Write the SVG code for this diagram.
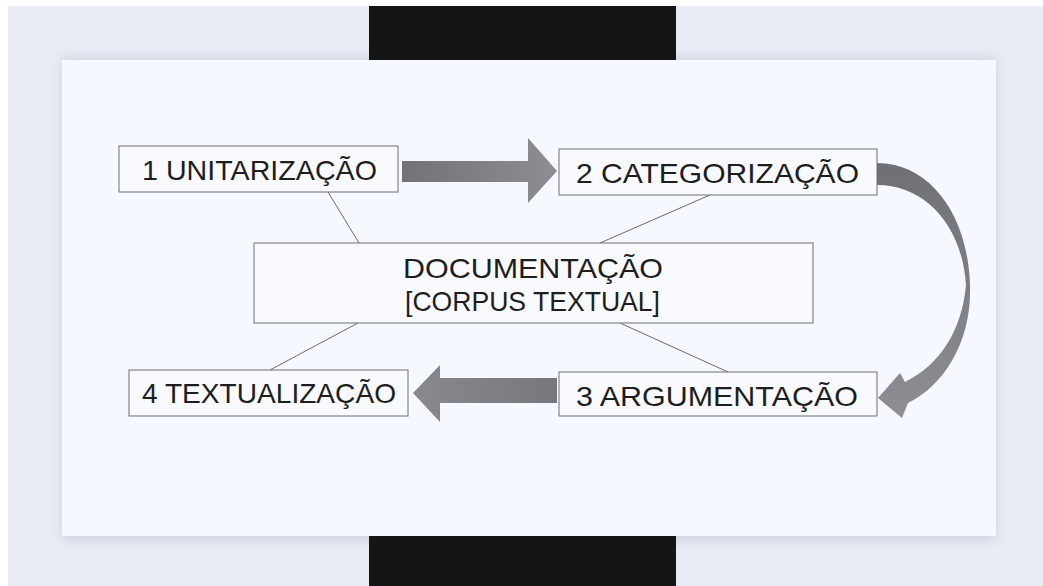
<svg xmlns="http://www.w3.org/2000/svg" width="1043" height="586" viewBox="0 0 1043 586">
<defs>
<style>
.box{fill:#f8faff;stroke:#6e6e6e;stroke-width:1}
.lbl{font-family:"Liberation Sans",Arial,sans-serif;font-size:28px;fill:#1e1e1e}
.ln{stroke:#6a6a6a;stroke-width:1;fill:none}
</style>
<linearGradient id="gR" x1="0" y1="0" x2="1" y2="0">
<stop offset="0" stop-color="#727278"/><stop offset="1" stop-color="#8d8d93"/>
</linearGradient>
<linearGradient id="gL" x1="0" y1="0" x2="1" y2="0">
<stop offset="0" stop-color="#88888e"/><stop offset="1" stop-color="#77777d"/>
</linearGradient>
<linearGradient id="gC" x1="0" y1="0" x2="0" y2="1">
<stop offset="0" stop-color="#6f6f76"/><stop offset="1" stop-color="#8e8e94"/>
</linearGradient>
<filter id="sh" x="-10%" y="-10%" width="120%" height="120%">
<feGaussianBlur stdDeviation="6"/>
</filter>
</defs>
<rect x="0" y="0" width="1043" height="586" fill="#ffffff"/>
<rect x="8" y="6" width="1035" height="580" fill="#e9ecf5"/>
<rect x="62" y="58" width="934" height="482" fill="#cdd1de" filter="url(#sh)"/>
<rect x="62" y="60" width="934" height="476" fill="#f5f8fe"/>
<rect x="369" y="6" width="307" height="54" fill="#151515"/>
<rect x="369" y="536" width="307" height="50" fill="#151515"/>
<g id="connectors">
<line class="ln" x1="328" y1="192" x2="359" y2="243"/>
<line class="ln" x1="710" y1="195" x2="600" y2="243"/>
<line class="ln" x1="358" y1="323" x2="270" y2="370"/>
<line class="ln" x1="620" y1="323" x2="728" y2="372"/>
<path id="arrow12" d="M402,161 L528,161 L528,138 L557,171 L528,203 L528,182 L402,182 Z" fill="url(#gR)"/>
<path id="arrow34" d="M557,378 L440,378 L440,365 L413,393 L440,422 L440,403 L557,403 Z" fill="url(#gL)"/>
<path id="arrow23" d="M877,163 C930,163 968,215 970,285 C972,340 945,385 908,403 L902,418 L878,398 L900,373 L905,382 C940,365 962,330 966,285 C962,225 925,185 877,185 Z" fill="url(#gC)"/>
</g>
<g id="node1">
<rect class="box" x="119" y="146" width="279" height="46"/>
<text class="lbl" x="142" y="180" textLength="235" lengthAdjust="spacingAndGlyphs">1 UNITARIZAÇÃO</text>
</g>
<g id="node2">
<rect class="box" x="559" y="149" width="318" height="46"/>
<text class="lbl" x="576" y="183" textLength="283" lengthAdjust="spacingAndGlyphs">2 CATEGORIZAÇÃO</text>
</g>
<g id="nodeDoc">
<rect class="box" x="254" y="243" width="559" height="80"/>
<text class="lbl" x="403" y="278" textLength="260" lengthAdjust="spacingAndGlyphs">DOCUMENTAÇÃO</text>
<text class="lbl" x="405" y="311" textLength="255" lengthAdjust="spacingAndGlyphs">[CORPUS TEXTUAL]</text>
</g>
<g id="node3">
<rect class="box" x="559" y="372" width="318" height="44"/>
<text class="lbl" x="576" y="406" textLength="282" lengthAdjust="spacingAndGlyphs">3 ARGUMENTAÇÃO</text>
</g>
<g id="node4">
<rect class="box" x="129" y="370" width="279" height="46"/>
<text class="lbl" x="142" y="403" textLength="254" lengthAdjust="spacingAndGlyphs">4 TEXTUALIZAÇÃO</text>
</g>
</svg>
